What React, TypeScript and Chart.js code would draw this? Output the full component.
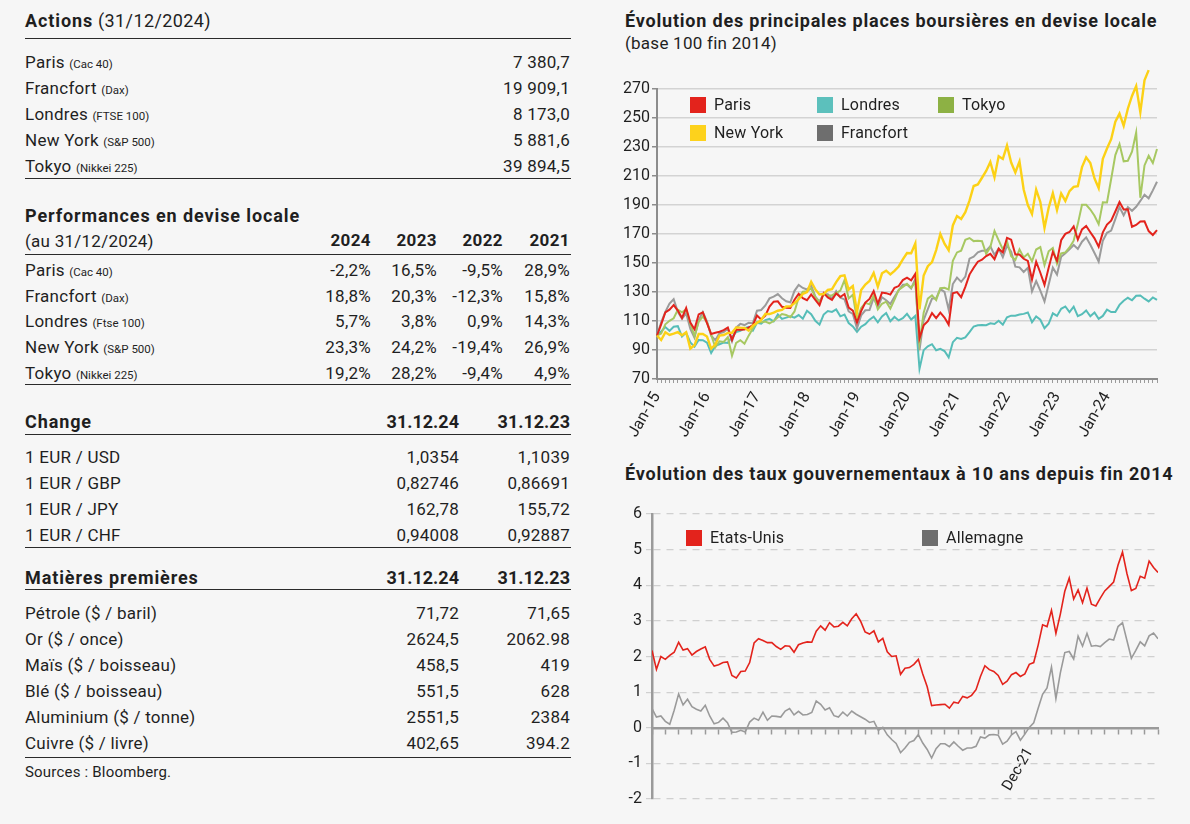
import React, { useEffect, useRef } from "react";
import { Chart, registerables } from "chart.js";
Chart.register(...registerables);

// ---------------- DATA ----------------
const actionNames = ["Paris", "Francfort", "Londres", "New York", "Tokyo"];
const actionIndices = ["(Cac 40)", "(Dax)", "(FTSE 100)", "(S&P 500)", "(Nikkei 225)"];
const actionValues = ["7 380,7", "19 909,1", "8 173,0", "5 881,6", "39 894,5"];

const perfYears = ["2024", "2023", "2022", "2021"];
const perfIndices = ["(Cac 40)", "(Dax)", "(Ftse 100)", "(S&P 500)", "(Nikkei 225)"];
const perfParis = ["-2,2%", "16,5%", "-9,5%", "28,9%"];
const perfFrancfort = ["18,8%", "20,3%", "-12,3%", "15,8%"];
const perfLondres = ["5,7%", "3,8%", "0,9%", "14,3%"];
const perfNewYork = ["23,3%", "24,2%", "-19,4%", "26,9%"];
const perfTokyo = ["19,2%", "28,2%", "-9,4%", "4,9%"];

const dateHeaders = ["31.12.24", "31.12.23"];
const fxPairs = ["1 EUR / USD", "1 EUR / GBP", "1 EUR / JPY", "1 EUR / CHF"];
const fx2024 = ["1,0354", "0,82746", "162,78", "0,94008"];
const fx2023 = ["1,1039", "0,86691", "155,72", "0,92887"];

const commodities = ["Pétrole ($ / baril)", "Or ($ / once)", "Maïs ($ / boisseau)", "Blé ($ / boisseau)", "Aluminium ($ / tonne)", "Cuivre ($ / livre)"];
const com2024 = ["71,72", "2624,5", "458,5", "551,5", "2551,5", "402,65"];
const com2023 = ["71,65", "2062.98", "419", "628", "2384", "394.2"];

// Stock indices, base 100 end 2014, month-end values (index 0 = end 2014)
const stockYearLabels = ["Jan-15", "Jan-16", "Jan-17", "Jan-18", "Jan-19", "Jan-20", "Jan-21", "Jan-22", "Jan-23", "Jan-24"];
const stockSeriesNames = ["New York", "Paris", "Tokyo", "Francfort", "Londres"];
const parisSeries = [100,
  107.7, 115.9, 117.8, 121.0, 117.2, 112.1, 118.9, 108.9, 104.3, 114.6, 116.0, 108.5,
  101.0, 101.9, 102.6, 103.7, 105.5, 97.0, 103.9, 103.9, 104.1, 105.5, 107.2, 113.8,
  111.1, 113.7, 119.9, 123.3, 123.6, 119.8, 119.2, 119.0, 124.7, 128.8, 125.7, 124.3,
  128.3, 124.5, 120.9, 129.2, 126.3, 124.6, 129.0, 126.5, 128.6, 119.2, 117.1, 109.0,
  116.8, 122.7, 125.2, 130.7, 121.9, 129.6, 129.2, 128.2, 132.9, 134.1, 138.2, 139.9,
  138.0, 142.5, 98.0, 107.0, 109.9, 115.5, 112.0, 115.8, 112.4, 107.5, 129.1, 129.9,
  126.4, 133.5, 142.0, 146.7, 150.9, 152.3, 154.8, 156.3, 152.6, 159.8, 157.3, 167.4,
  166.1, 155.8, 155.9, 152.9, 151.4, 138.6, 150.9, 143.3, 134.9, 146.7, 157.7, 151.5,
  165.7, 170.1, 171.4, 175.3, 166.1, 173.2, 175.5, 171.2, 167.0, 161.2, 171.1, 176.5,
  179.2, 185.5, 192.0, 186.9, 187.1, 175.0, 176.2, 178.6, 178.7, 172.0, 169.3, 172.7];
const francfortSeries = [100,
  109.1, 116.3, 122.0, 125.0, 116.4, 111.6, 115.3, 104.6, 98.5, 110.6, 116.1, 109.6,
  99.9, 96.8, 101.6, 102.4, 104.7, 96.0, 105.4, 108.0, 107.2, 108.8, 108.5, 117.1,
  117.6, 120.7, 125.6, 126.8, 128.6, 125.7, 123.6, 122.9, 130.8, 134.9, 132.8, 131.7,
  134.5, 126.8, 123.4, 128.6, 128.5, 125.5, 130.6, 126.1, 124.9, 116.7, 114.8, 105.0,
  113.9, 117.4, 117.5, 125.9, 119.6, 126.4, 124.3, 121.8, 126.7, 131.2, 135.0, 135.1,
  132.4, 139.0, 90.0, 110.8, 118.2, 125.5, 125.6, 132.0, 130.1, 117.8, 135.5, 139.9,
  137.0, 140.6, 153.0, 154.4, 157.3, 158.4, 158.5, 161.5, 155.6, 160.0, 154.0, 162.0,
  157.8, 147.5, 147.0, 143.8, 146.7, 130.4, 137.5, 130.9, 123.5, 135.2, 146.8, 142.0,
  154.3, 156.7, 159.4, 162.4, 159.7, 164.7, 167.7, 162.6, 156.9, 151.0, 165.4, 170.8,
  172.4, 180.3, 188.6, 182.9, 188.6, 186.0, 188.8, 192.8, 197.1, 194.6, 200.1, 206.0];
const londresSeries = [100,
  102.8, 105.8, 103.2, 106.0, 106.4, 99.3, 102.0, 95.2, 92.3, 96.9, 96.8, 95.1,
  88.0, 92.9, 94.0, 95.1, 94.9, 99.1, 102.4, 103.3, 105.1, 105.9, 103.3, 108.8,
  108.1, 110.6, 111.5, 109.7, 114.5, 111.4, 112.3, 113.2, 112.3, 114.1, 111.6, 117.1,
  114.7, 110.1, 107.5, 114.4, 116.9, 116.3, 118.0, 113.2, 114.4, 108.6, 106.3, 102.5,
  106.1, 107.8, 110.9, 113.0, 109.1, 113.1, 115.5, 109.8, 112.8, 110.4, 111.9, 114.9,
  111.0, 113.5, 77.0, 89.9, 92.6, 94.0, 89.8, 90.8, 89.3, 84.9, 95.4, 98.4,
  97.6, 98.7, 102.3, 106.2, 107.0, 107.2, 107.1, 108.4, 107.9, 110.2, 107.5, 112.5,
  113.7, 113.6, 114.5, 114.9, 115.9, 109.2, 113.1, 110.9, 105.0, 108.1, 115.3, 113.5,
  118.4, 120.0, 116.2, 119.9, 113.4, 114.7, 117.3, 113.3, 115.9, 111.5, 113.5, 117.8,
  116.2, 116.2, 121.1, 124.0, 126.0, 124.3, 127.4, 127.6, 125.4, 123.5, 126.2, 124.5];
const newYorkSeries = [100,
  96.9, 102.2, 100.4, 101.3, 102.3, 100.2, 102.2, 91.0, 93.3, 101.0, 101.0, 99.3,
  91.0, 93.8, 100.0, 100.3, 101.8, 101.9, 105.6, 105.4, 105.3, 103.3, 106.8, 108.7,
  110.7, 114.8, 114.8, 115.8, 117.1, 117.7, 120.0, 120.1, 122.3, 125.1, 128.6, 129.9,
  137.1, 131.8, 128.3, 128.6, 131.4, 132.0, 136.8, 140.9, 141.5, 131.7, 134.1, 116.0,
  131.3, 135.2, 137.6, 143.1, 133.7, 142.9, 144.7, 142.1, 144.6, 147.6, 152.5, 156.9,
  156.7, 163.5, 118.0, 141.4, 147.8, 150.6, 158.9, 170.0, 163.3, 158.8, 175.9, 182.4,
  180.4, 185.1, 193.0, 203.1, 204.2, 208.8, 213.5, 219.7, 209.2, 223.7, 221.8, 231.0,
  219.3, 212.4, 220.0, 200.7, 190.0, 183.8, 200.6, 192.1, 174.2, 188.1, 198.2, 186.5,
  198.0, 192.8, 199.6, 202.5, 203.0, 216.1, 222.9, 219.0, 208.3, 201.7, 221.9, 229.0,
  235.4, 247.5, 253.0, 244.6, 256.4, 265.2, 272.0, 254.0, 276.0, 283.0, null, null];
const tokyoSeries = [100,
  101.3, 107.7, 110.1, 111.9, 117.8, 116.0, 118.0, 108.2, 99.6, 109.4, 113.2, 109.1,
  100.4, 91.8, 96.0, 95.5, 98.8, 86.0, 94.9, 96.8, 94.3, 99.9, 104.9, 109.5,
  109.1, 109.6, 108.4, 110.0, 112.6, 114.8, 114.2, 112.6, 116.6, 126.1, 130.2, 130.5,
  132.4, 126.5, 122.9, 128.7, 127.2, 127.8, 129.2, 131.0, 138.2, 125.6, 128.1, 111.0,
  119.0, 122.5, 121.5, 127.6, 118.1, 121.9, 123.3, 118.6, 124.7, 131.4, 133.5, 135.6,
  133.0, 137.0, 95.0, 115.7, 125.4, 127.7, 124.4, 132.6, 132.9, 131.7, 151.5, 157.3,
  158.5, 166.0, 167.2, 165.1, 165.4, 165.0, 156.3, 161.0, 172.0, 165.6, 159.4, 165.0,
  154.7, 152.0, 159.4, 153.8, 156.3, 151.2, 159.3, 161.0, 148.6, 158.1, 160.3, 149.5,
  156.6, 157.3, 160.7, 165.4, 177.0, 190.2, 190.1, 186.9, 182.6, 176.8, 191.9, 191.8,
  207.9, 224.4, 232.0, 220.1, 220.5, 226.8, 240.0, 195.0, 217.3, 223.9, 218.9, 228.6];

// 10-year government yields, month-end (index 0 = end 2014)
const rateSeriesNames = ["Etats-Unis", "Allemagne"];
const rateTickLabel = "Dec-21";
const rateTickMonth = 84;
const usRates = [2.17,
  1.64, 2.00, 1.92, 2.03, 2.12, 2.40, 2.18, 2.22, 2.04, 2.14, 2.21, 2.27,
  1.92, 1.73, 1.77, 1.83, 1.85, 1.47, 1.40, 1.58, 1.59, 1.83, 2.38, 2.50,
  2.45, 2.39, 2.39, 2.28, 2.20, 2.30, 2.29, 2.12, 2.33, 2.38, 2.41, 2.40,
  2.71, 2.86, 2.74, 2.95, 2.83, 2.85, 2.96, 2.86, 3.06, 3.20, 2.99, 2.69,
  2.63, 2.72, 2.41, 2.51, 2.13, 2.00, 2.02, 1.50, 1.67, 1.69, 1.78, 1.92,
  1.51, 1.15, 0.62, 0.64, 0.65, 0.66, 0.55, 0.72, 0.69, 0.88, 0.84, 0.91,
  1.07, 1.44, 1.74, 1.63, 1.58, 1.47, 1.22, 1.31, 1.49, 1.55, 1.44, 1.51,
  1.78, 1.83, 2.32, 2.89, 2.84, 3.30, 2.65, 3.19, 3.83, 4.20, 3.61, 3.87,
  3.51, 3.92, 3.47, 3.42, 3.64, 3.84, 3.96, 4.09, 4.57, 4.93, 4.33, 3.85,
  3.91, 4.25, 4.20, 4.68, 4.50, 4.36];
const deRates = [0.54,
  0.30, 0.33, 0.18, 0.10, 0.49, 0.95, 0.64, 0.80, 0.59, 0.52, 0.47, 0.63,
  0.33, 0.11, 0.15, 0.27, 0.14, -0.13, -0.12, -0.07, -0.12, 0.16, 0.27, 0.21,
  0.44, 0.21, 0.33, 0.32, 0.30, 0.47, 0.54, 0.36, 0.46, 0.36, 0.37, 0.43,
  0.75, 0.66, 0.50, 0.56, 0.34, 0.30, 0.44, 0.33, 0.47, 0.38, 0.31, 0.24,
  0.15, 0.18, -0.07, 0.01, -0.20, -0.33, -0.44, -0.70, -0.57, -0.41, -0.36, -0.19,
  -0.43, -0.61, -0.85, -0.59, -0.45, -0.45, -0.53, -0.40, -0.52, -0.63, -0.57, -0.57,
  -0.52, -0.26, -0.29, -0.20, -0.19, -0.21, -0.46, -0.38, -0.20, -0.11, -0.35, -0.18,
  0.01, 0.14, 0.55, 0.94, 1.12, 1.70, 0.82, 1.54, 2.11, 2.14, 1.93, 2.57,
  2.29, 2.65, 2.29, 2.31, 2.28, 2.39, 2.49, 2.46, 2.84, 2.95, 2.45, 1.95,
  2.17, 2.41, 2.30, 2.58, 2.66, 2.50];

// ---------------- STYLE ----------------
const W = 1190;
const H = 824;
const BG = "#f6f6f6";
const TEXT = "#1f1f1f";
const FONT = "Roboto, 'Liberation Sans', Arial, sans-serif";

const stockColors = ["#fcd116", "#e3231c", "#a7c862", "#9b9b9b", "#56bdb8"];
const stockLegendColors = ["#fdd21c", "#e3231c", "#8db144", "#6e6e6e", "#5cc0bc"];
const rateColors = ["#e3231c", "#9a9a9a"];
const rateLegendColors = ["#e3231c", "#6e6e6e"];

function Txt(p: any) {
  const style: any = {
    position: "absolute",
    top: p.y - 11,
    height: 22,
    lineHeight: "22px",
    fontSize: p.size || 17,
    fontWeight: p.bold ? 700 : 400,
    letterSpacing: p.ls !== undefined ? p.ls : 0.25,
    whiteSpace: "nowrap",
    color: p.color || TEXT,
  };
  if (p.right !== undefined) style.right = W - p.right;
  else style.left = p.x;
  return <div style={style}>{p.children}</div>;
}

function HLine({ y }: { y: number }) {
  return <div style={{ position: "absolute", left: 25, width: 546, top: y, height: 1, background: "#2a2a2a" }} />;
}

function Small({ children }: any) {
  return <span style={{ fontSize: 11.5, letterSpacing: 0 }}>{children}</span>;
}

function StockChart() {
  const ref = useRef<HTMLCanvasElement>(null);
  useEffect(() => {
    const series = [newYorkSeries, parisSeries, tokyoSeries, francfortSeries, londresSeries];
    const chart = new Chart(ref.current!, {
      type: "line",
      data: {
        datasets: series.map((s, k) => ({
          label: stockSeriesNames[k],
          data: s.map((v, i) => ({ x: i, y: v as any })),
          borderColor: stockColors[k],
          borderWidth: k === 0 ? 2.4 : 2,
          pointRadius: 0,
          tension: 0,
          clip: false as any,
          spanGaps: false,
        })),
      },
      options: {
        animation: false,
        responsive: false,
        maintainAspectRatio: false,
        layout: { padding: { top: 29, right: 11, left: 0, bottom: 0 } },
        plugins: { legend: { display: false }, tooltip: { enabled: false } },
        scales: {
          x: {
            type: "linear",
            min: 0,
            max: 120,
            afterFit: (s: any) => { s.height = 66; s.paddingRight = 0; s.paddingLeft = 0; },
            grid: { drawOnChartArea: false, drawTicks: true, tickLength: 4, tickColor: "#9a9a9a", tickWidth: 1 },
            border: { color: "#8c8c8c", width: 2 },
            ticks: {
              stepSize: 1,
              autoSkip: false,
              minRotation: 60,
              maxRotation: 60,
              padding: 6,
              color: TEXT,
              font: { family: FONT, size: 16 },
              callback: (v: any) => (v % 12 === 0 && v / 12 < stockYearLabels.length ? stockYearLabels[v / 12] : ""),
            },
          },
          y: {
            min: 70,
            max: 270,
            afterFit: (s: any) => { s.width = 37; },
            grid: { color: "#d3d3d3", lineWidth: 1.5, tickLength: 5, tickColor: "#8c8c8c" },
            border: { color: "#8c8c8c", width: 2 },
            ticks: { stepSize: 20, padding: 2, color: TEXT, font: { family: FONT, size: 16 } },
          },
        },
      },
    });
    return () => chart.destroy();
  }, []);
  return <canvas ref={ref} width={548} height={385} style={{ position: "absolute", left: 620, top: 60 }} />;
}

function RateChart() {
  const ref = useRef<HTMLCanvasElement>(null);
  useEffect(() => {
    const series = [usRates, deRates];
    const chart = new Chart(ref.current!, {
      type: "line",
      data: {
        datasets: series.map((s, k) => ({
          label: rateSeriesNames[k],
          data: s.map((v, i) => ({ x: i, y: v })),
          borderColor: rateColors[k],
          borderWidth: 1.6,
          pointRadius: 0,
          tension: 0,
        })),
      },
      options: {
        animation: false,
        responsive: false,
        maintainAspectRatio: false,
        layout: { padding: { top: 19, right: 7, left: 0, bottom: 25 } },
        plugins: { legend: { display: false }, tooltip: { enabled: false } },
        scales: {
          x: {
            type: "linear",
            position: { y: 0 } as any,
            min: 0,
            max: 114,
            afterFit: (s: any) => { s.paddingRight = 0; s.paddingLeft = 0; },
            grid: { drawOnChartArea: false, drawTicks: true, tickLength: 5, tickColor: "#9a9a9a", tickWidth: 1.5 },
            border: { color: "#9a9a9a", width: 2.5 },
            ticks: {
              stepSize: 3,
              autoSkip: false,
              minRotation: 60,
              maxRotation: 60,
              padding: 12,
              labelOffset: 5,
              color: TEXT,
              font: { family: FONT, size: 15 },
              callback: (v: any) => (v === rateTickMonth ? rateTickLabel : ""),
            },
          },
          y: {
            min: -2,
            max: 6,
            afterFit: (s: any) => { s.width = 32; },
            grid: { color: "#d0d0d0", lineWidth: 1.2, tickLength: 6, tickColor: "#d0d0d0" },
            border: { color: "#9a9a9a", width: 2.5, dash: [7, 6] },
            ticks: { stepSize: 1, padding: 4, color: TEXT, font: { family: FONT, size: 16 } },
          },
        },
      },
    });
    return () => chart.destroy();
  }, []);
  return <canvas ref={ref} width={545} height={329} style={{ position: "absolute", left: 620, top: 495 }} />;
}

function LegendItem({ x, y, color, label }: any) {
  return (
    <>
      <div style={{ position: "absolute", left: x, top: y - 8, width: 16, height: 16, background: color }} />
      <Txt x={x + 24} y={y} size={16} ls={0.2}>{label}</Txt>
    </>
  );
}

// layout (positions only)
const actionRowsY = [62, 88, 114, 140, 166];
const perfRowsY = [270, 296, 321, 347, 373];
const perfColsRight = [371, 437, 503, 570];
const fxRowsY = [457, 483, 509, 535];
const comRowsY = [613, 639, 665, 691, 717, 743];
const twoColsRight = [459, 570];
const stockLegendPos = [[690, 133], [690, 105], [938, 105], [817, 133], [817, 105]];
const rateLegendPos = [[686, 538], [922, 538]];

export default function App() {
  const perfRows = [perfParis, perfFrancfort, perfLondres, perfNewYork, perfTokyo];
  return (
    <div style={{ position: "absolute", left: 0, top: 0, width: W, height: H, background: BG, fontFamily: FONT, color: TEXT, overflow: "hidden" }}>
      {/* Actions */}
      <Txt x={25} y={21} size={18} ls={0.4}><b style={{ letterSpacing: 0.9 }}>Actions</b> (31/12/2024)</Txt>
      <HLine y={38} />
      {actionNames.map((n, i) => (
        <React.Fragment key={"a" + i}>
          <Txt x={25} y={actionRowsY[i]}>{n} <Small>{actionIndices[i]}</Small></Txt>
          <Txt right={570} y={actionRowsY[i]}>{actionValues[i]}</Txt>
        </React.Fragment>
      ))}
      <HLine y={178} />

      {/* Performances */}
      <Txt x={25} y={216} size={18} bold ls={0.9}>Performances en devise locale</Txt>
      <Txt x={25} y={241}>(au 31/12/2024)</Txt>
      {perfYears.map((yr, j) => (
        <Txt key={"py" + j} right={perfColsRight[j]} y={240} bold ls={0.4}>{yr}</Txt>
      ))}
      <HLine y={254} />
      {actionNames.map((n, i) => (
        <React.Fragment key={"p" + i}>
          <Txt x={25} y={perfRowsY[i]}>{n} <Small>{perfIndices[i]}</Small></Txt>
          {perfRows[i].map((v, j) => (
            <Txt key={j} right={perfColsRight[j]} y={perfRowsY[i]}>{v}</Txt>
          ))}
        </React.Fragment>
      ))}
      <HLine y={384} />

      {/* Change */}
      <Txt x={25} y={422} size={18} bold ls={0.9}>Change</Txt>
      {dateHeaders.map((d, j) => (
        <Txt key={"cd" + j} right={twoColsRight[j]} y={422} size={18} bold ls={0}>{d}</Txt>
      ))}
      <HLine y={434} />
      {fxPairs.map((n, i) => (
        <React.Fragment key={"f" + i}>
          <Txt x={25} y={fxRowsY[i]}>{n}</Txt>
          <Txt right={twoColsRight[0]} y={fxRowsY[i]}>{fx2024[i]}</Txt>
          <Txt right={twoColsRight[1]} y={fxRowsY[i]}>{fx2023[i]}</Txt>
        </React.Fragment>
      ))}
      <HLine y={547} />

      {/* Matières premières */}
      <Txt x={25} y={578} size={18} bold ls={0.9}>Matières premières</Txt>
      {dateHeaders.map((d, j) => (
        <Txt key={"md" + j} right={twoColsRight[j]} y={578} size={18} bold ls={0}>{d}</Txt>
      ))}
      <HLine y={589} />
      {commodities.map((n, i) => (
        <React.Fragment key={"c" + i}>
          <Txt x={25} y={comRowsY[i]}>{n}</Txt>
          <Txt right={twoColsRight[0]} y={comRowsY[i]}>{com2024[i]}</Txt>
          <Txt right={twoColsRight[1]} y={comRowsY[i]}>{com2023[i]}</Txt>
        </React.Fragment>
      ))}
      <HLine y={757} />
      <Txt x={25} y={772} size={15} ls={0.2}>Sources : Bloomberg.</Txt>

      {/* Right side titles */}
      <Txt x={625} y={21} size={18} bold ls={0.8}>Évolution des principales places boursières en devise locale</Txt>
      <Txt x={625} y={43}>(base 100 fin 2014)</Txt>
      <Txt x={625} y={474} size={18} bold ls={0.8}>Évolution des taux gouvernementaux à 10 ans depuis fin 2014</Txt>

      <StockChart />
      <RateChart />

      {stockSeriesNames.map((n, k) => (
        <LegendItem key={"sl" + k} x={stockLegendPos[k][0]} y={stockLegendPos[k][1]} color={stockLegendColors[k]} label={n} />
      ))}
      {rateSeriesNames.map((n, k) => (
        <LegendItem key={"rl" + k} x={rateLegendPos[k][0]} y={rateLegendPos[k][1]} color={rateLegendColors[k]} label={n} />
      ))}
    </div>
  );
}
